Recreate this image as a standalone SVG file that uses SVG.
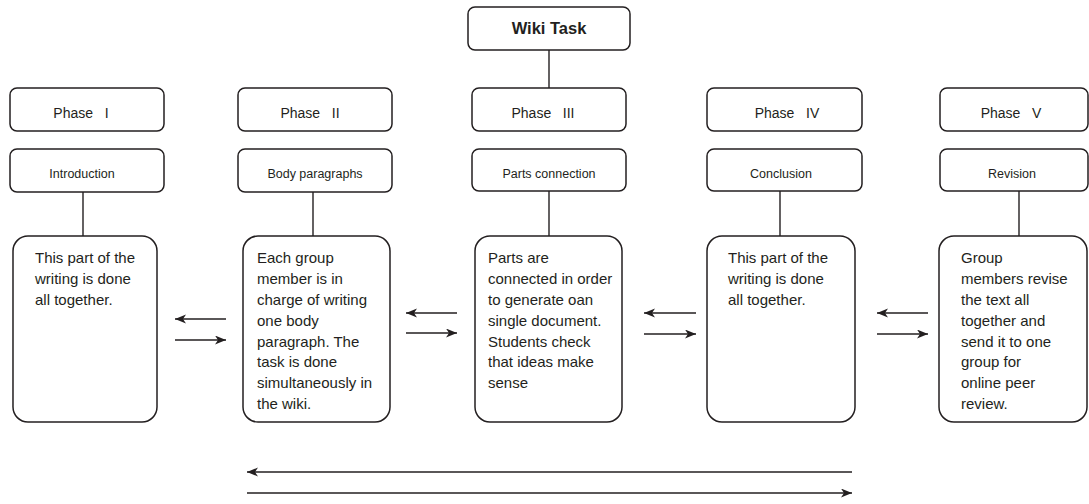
<svg xmlns="http://www.w3.org/2000/svg" width="1089" height="504" viewBox="0 0 1089 504">
<style>
.bx{fill:#fff;stroke:#231f20;stroke-width:1.5}
.ln{stroke:#231f20;stroke-width:1.4;fill:none}
.ar{stroke:#231f20;stroke-width:1.3;fill:none;marker-end:url(#ah)}
text{font-family:"Liberation Sans",Arial,sans-serif;fill:#231f20}
.ph{font-size:14px;text-anchor:middle}
.sb{font-size:12.5px;text-anchor:middle}
.bd{font-size:15px}
.tt{font-size:16.5px;font-weight:bold;text-anchor:middle}
</style>
<defs>
<marker id="ah" markerUnits="userSpaceOnUse" markerWidth="14" markerHeight="12" refX="11" refY="4.5" orient="auto">
<path d="M0,0 L11,4.5 L0,9 L3,4.5 Z" fill="#231f20"/>
</marker>
</defs>
<rect width="1089" height="504" fill="#fff"/>
<g id="connectors">
<line class="ln" x1="549" y1="50" x2="549" y2="89"/>
<line class="ln" x1="83" y1="192" x2="83" y2="236"/>
<line class="ln" x1="313" y1="192" x2="313" y2="236"/>
<line class="ln" x1="549" y1="191" x2="549" y2="236"/>
<line class="ln" x1="780" y1="191" x2="780" y2="236"/>
<line class="ln" x1="1019" y1="191" x2="1019" y2="236"/>
<line class="ar" x1="226" y1="319" x2="175" y2="319"/>
<line class="ar" x1="175" y1="340" x2="226" y2="340"/>
<line class="ar" x1="457" y1="313" x2="406" y2="313"/>
<line class="ar" x1="406" y1="333" x2="457" y2="333"/>
<line class="ar" x1="696" y1="313" x2="644" y2="313"/>
<line class="ar" x1="644" y1="334" x2="696" y2="334"/>
<line class="ar" x1="928" y1="313" x2="877" y2="313"/>
<line class="ar" x1="877" y1="334" x2="928" y2="334"/>
<line class="ar" x1="852" y1="472" x2="247" y2="472"/>
<line class="ar" x1="247" y1="493" x2="852" y2="493"/>
</g>
<g id="wiki-task">
<rect class="bx" x="468" y="7" width="162" height="43" rx="7"/>
<text class="tt" x="549" y="34">Wiki Task</text>
</g>
<g id="phase-1">
<rect class="bx" x="10" y="88" width="154" height="43" rx="7"/>
<text class="ph" x="81" y="118" xml:space="preserve">Phase   I</text>
</g>
<g id="phase-2">
<rect class="bx" x="238" y="88" width="154" height="43" rx="7"/>
<text class="ph" x="310" y="118" xml:space="preserve">Phase   II</text>
</g>
<g id="phase-3">
<rect class="bx" x="472" y="88" width="154" height="43" rx="7"/>
<text class="ph" x="543" y="118" xml:space="preserve">Phase   III</text>
</g>
<g id="phase-4">
<rect class="bx" x="707" y="88" width="155" height="43" rx="7"/>
<text class="ph" x="787" y="118" xml:space="preserve">Phase   IV</text>
</g>
<g id="phase-5">
<rect class="bx" x="940" y="88" width="148" height="43" rx="7"/>
<text class="ph" x="1011" y="118" xml:space="preserve">Phase   V</text>
</g>
<g id="introduction">
<rect class="bx" x="10" y="149" width="154" height="43" rx="7"/>
<text class="sb" x="82" y="178">Introduction</text>
</g>
<g id="body-paragraphs">
<rect class="bx" x="238" y="149" width="154" height="43" rx="7"/>
<text class="sb" x="315" y="178">Body paragraphs</text>
</g>
<g id="parts-connection">
<rect class="bx" x="472" y="149" width="154" height="42" rx="7"/>
<text class="sb" x="549" y="178">Parts connection</text>
</g>
<g id="conclusion">
<rect class="bx" x="707" y="149" width="155" height="42" rx="7"/>
<text class="sb" x="781" y="178">Conclusion</text>
</g>
<g id="revision">
<rect class="bx" x="940" y="149" width="148" height="42" rx="7"/>
<text class="sb" x="1012" y="178">Revision</text>
</g>
<g id="desc-1">
<rect class="bx" x="13" y="236" width="144" height="186" rx="15"/>
<text class="bd"><tspan x="35" y="263">This part of the</tspan><tspan x="35" y="284">writing is done</tspan><tspan x="35" y="305">all together.</tspan></text>
</g>
<g id="desc-2">
<rect class="bx" x="243" y="236" width="147" height="186" rx="15"/>
<text class="bd"><tspan x="257" y="263">Each group</tspan><tspan x="257" y="284">member is in</tspan><tspan x="257" y="305">charge of writing</tspan><tspan x="257" y="326">one body</tspan><tspan x="257" y="347">paragraph. The</tspan><tspan x="257" y="367">task is done</tspan><tspan x="257" y="388">simultaneously in</tspan><tspan x="257" y="409">the wiki.</tspan></text>
</g>
<g id="desc-3">
<rect class="bx" x="475" y="236" width="147" height="186" rx="15"/>
<text class="bd"><tspan x="488" y="263">Parts are</tspan><tspan x="488" y="284">connected in order</tspan><tspan x="488" y="305">to generate oan</tspan><tspan x="488" y="326">single document.</tspan><tspan x="488" y="347">Students check</tspan><tspan x="488" y="367">that ideas make</tspan><tspan x="488" y="388">sense</tspan></text>
</g>
<g id="desc-4">
<rect class="bx" x="707" y="236" width="148" height="186" rx="15"/>
<text class="bd"><tspan x="728" y="263">This part of the</tspan><tspan x="728" y="284">writing is done</tspan><tspan x="728" y="305">all together.</tspan></text>
</g>
<g id="desc-5">
<rect class="bx" x="939" y="236" width="148" height="186" rx="15"/>
<text class="bd"><tspan x="961" y="263">Group</tspan><tspan x="961" y="284">members revise</tspan><tspan x="961" y="305">the text all</tspan><tspan x="961" y="326">together and</tspan><tspan x="961" y="347">send it to one</tspan><tspan x="961" y="367">group for</tspan><tspan x="961" y="388">online peer</tspan><tspan x="961" y="409">review.</tspan></text>
</g>
</svg>
